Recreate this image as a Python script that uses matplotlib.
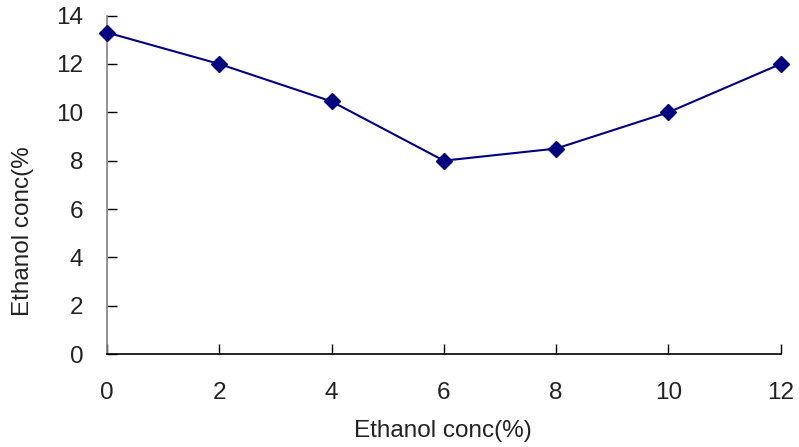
import matplotlib
matplotlib.use("Agg")
import matplotlib.pyplot as plt

# Ethanol concentration series
x_values = [0, 2, 4, 6, 8, 10, 12]
y_values = [13.3, 12.0, 10.45, 8.0, 8.5, 10.0, 12.0]
x_ticks = [0, 2, 4, 6, 8, 10, 12]
y_ticks = [0, 2, 4, 6, 8, 10, 12, 14]
x_label = "Ethanol conc(%)"
y_label = "Ethanol conc(%"

plt.rcParams['font.family'] = ['Liberation Sans', 'DejaVu Sans']
text_color = '#222222'
fs = 17.5

W, H = 799, 447
fig = plt.figure(figsize=(W / 100, H / 100), dpi=100)
ax = fig.add_axes([0.134, 0.208, 0.843, 0.757])

ax.plot(x_values, y_values, color='#000080', linewidth=1.5,
        marker='D', markersize=8, markerfacecolor='#000080',
        markeredgecolor='#000080', clip_on=False, zorder=3)

ax.set_xlim(0, 12)
ax.set_ylim(0, 14)
ax.set_xticks(x_ticks)
ax.set_yticks(y_ticks)

for side in ('top', 'right'):
    ax.spines[side].set_visible(False)
ax.spines['left'].set_color('#808080')
ax.spines['left'].set_linewidth(1.2)
ax.spines['bottom'].set_color('#000000')
ax.spines['bottom'].set_linewidth(1.2)

ax.tick_params(axis='y', direction='in', length=7, width=1, color='#000000',
               labelsize=fs, labelcolor=text_color, pad=17)
ax.tick_params(axis='x', direction='in', length=7, width=1, color='#000000',
               labelsize=fs, labelcolor=text_color, pad=20)

fig.text(443 / W, 1 - 431 / H, x_label, fontsize=fs, color=text_color,
         ha='center', va='center')
fig.text(23 / W, 1 - 231 / H, y_label, fontsize=fs, color=text_color,
         ha='center', va='center', rotation=90)

fig.savefig("out.png", dpi=100)
